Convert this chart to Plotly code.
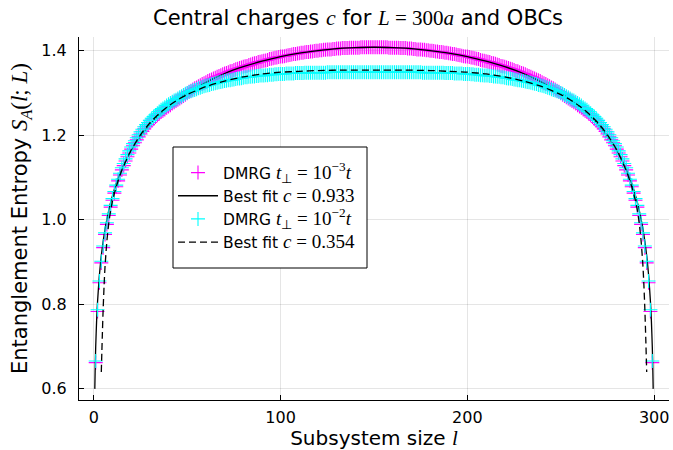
import plotly.graph_objects as go

# Subsystem sizes l = 1 .. 299 (L = 300)
l_vals = list(range(1, 300))

# DMRG entanglement entropy, t_perp = 1e-3 t (magenta)
S_dmrg_1e3 = [
    0.662, 0.783, 0.851, 0.898, 0.934, 0.965, 0.989, 1.010, 1.030, 1.046,
    1.063, 1.078, 1.092, 1.106, 1.118, 1.128, 1.139, 1.149, 1.158, 1.167,
    1.175, 1.182, 1.189, 1.196, 1.203, 1.209, 1.215, 1.220, 1.225, 1.230,
    1.235, 1.239, 1.243, 1.247, 1.251, 1.255, 1.258, 1.261, 1.265, 1.268,
    1.271, 1.275, 1.278, 1.281, 1.284, 1.287, 1.290, 1.293, 1.296, 1.299,
    1.303, 1.305, 1.308, 1.311, 1.313, 1.316, 1.318, 1.321, 1.323, 1.325,
    1.328, 1.330, 1.332, 1.334, 1.336, 1.338, 1.340, 1.342, 1.344, 1.346,
    1.347, 1.349, 1.351, 1.352, 1.354, 1.356, 1.357, 1.359, 1.360, 1.362,
    1.363, 1.364, 1.366, 1.367, 1.369, 1.370, 1.371, 1.373, 1.374, 1.375,
    1.376, 1.377, 1.378, 1.380, 1.381, 1.382, 1.383, 1.384, 1.385, 1.386,
    1.386, 1.387, 1.388, 1.389, 1.390, 1.391, 1.392, 1.392, 1.393, 1.394,
    1.395, 1.395, 1.396, 1.397, 1.397, 1.398, 1.398, 1.399, 1.400, 1.400,
    1.401, 1.401, 1.402, 1.402, 1.403, 1.403, 1.403, 1.404, 1.404, 1.405,
    1.405, 1.405, 1.406, 1.406, 1.406, 1.406, 1.407, 1.407, 1.407, 1.407,
    1.407, 1.407, 1.408, 1.408, 1.408, 1.408, 1.408, 1.408, 1.408, 1.408,
    1.408, 1.408, 1.408, 1.408, 1.408, 1.408, 1.408, 1.407, 1.407, 1.407,
    1.407, 1.407, 1.407, 1.406, 1.406, 1.406, 1.406, 1.405, 1.405, 1.405,
    1.404, 1.404, 1.403, 1.403, 1.403, 1.402, 1.402, 1.401, 1.401, 1.400,
    1.400, 1.399, 1.398, 1.398, 1.397, 1.397, 1.396, 1.395, 1.395, 1.394,
    1.393, 1.392, 1.392, 1.391, 1.390, 1.389, 1.388, 1.387, 1.386, 1.386,
    1.385, 1.384, 1.383, 1.382, 1.381, 1.380, 1.378, 1.377, 1.376, 1.375,
    1.374, 1.373, 1.371, 1.370, 1.369, 1.367, 1.366, 1.364, 1.363, 1.362,
    1.360, 1.359, 1.357, 1.356, 1.354, 1.352, 1.351, 1.349, 1.347, 1.346,
    1.344, 1.342, 1.340, 1.338, 1.336, 1.334, 1.332, 1.330, 1.328, 1.325,
    1.323, 1.321, 1.318, 1.316, 1.313, 1.311, 1.308, 1.305, 1.303, 1.299,
    1.296, 1.293, 1.290, 1.287, 1.284, 1.281, 1.278, 1.275, 1.271, 1.268,
    1.265, 1.261, 1.258, 1.255, 1.251, 1.247, 1.243, 1.239, 1.235, 1.230,
    1.225, 1.220, 1.215, 1.209, 1.203, 1.196, 1.189, 1.182, 1.175, 1.167,
    1.158, 1.149, 1.139, 1.128, 1.118, 1.106, 1.092, 1.078, 1.063, 1.046,
    1.030, 1.010, 0.989, 0.965, 0.934, 0.898, 0.851, 0.783, 0.662,
]

# DMRG entanglement entropy, t_perp = 1e-2 t (cyan)
S_dmrg_1e2 = [
    0.666, 0.787, 0.855, 0.902, 0.938, 0.969, 0.993, 1.014, 1.034, 1.050,
    1.067, 1.082, 1.096, 1.110, 1.123, 1.133, 1.144, 1.154, 1.163, 1.172,
    1.180, 1.187, 1.194, 1.201, 1.208, 1.214, 1.220, 1.225, 1.230, 1.235,
    1.240, 1.244, 1.248, 1.252, 1.256, 1.260, 1.263, 1.266, 1.270, 1.273,
    1.276, 1.279, 1.282, 1.284, 1.287, 1.290, 1.292, 1.295, 1.298, 1.300,
    1.302, 1.304, 1.306, 1.307, 1.309, 1.311, 1.312, 1.314, 1.316, 1.317,
    1.318, 1.319, 1.321, 1.322, 1.323, 1.324, 1.325, 1.326, 1.327, 1.328,
    1.329, 1.330, 1.330, 1.331, 1.332, 1.333, 1.334, 1.334, 1.335, 1.336,
    1.337, 1.337, 1.338, 1.338, 1.339, 1.339, 1.340, 1.340, 1.341, 1.341,
    1.341, 1.342, 1.342, 1.343, 1.343, 1.343, 1.344, 1.344, 1.345, 1.345,
    1.345, 1.345, 1.346, 1.346, 1.346, 1.346, 1.346, 1.347, 1.347, 1.347,
    1.347, 1.347, 1.348, 1.348, 1.348, 1.348, 1.348, 1.348, 1.348, 1.348,
    1.348, 1.348, 1.348, 1.348, 1.349, 1.349, 1.349, 1.349, 1.349, 1.349,
    1.349, 1.349, 1.349, 1.349, 1.349, 1.349, 1.349, 1.349, 1.349, 1.349,
    1.349, 1.349, 1.349, 1.349, 1.349, 1.349, 1.349, 1.349, 1.349, 1.349,
    1.349, 1.349, 1.349, 1.349, 1.349, 1.349, 1.349, 1.349, 1.349, 1.349,
    1.349, 1.349, 1.349, 1.349, 1.349, 1.349, 1.349, 1.349, 1.349, 1.349,
    1.349, 1.349, 1.349, 1.349, 1.349, 1.348, 1.348, 1.348, 1.348, 1.348,
    1.348, 1.348, 1.348, 1.348, 1.348, 1.348, 1.348, 1.347, 1.347, 1.347,
    1.347, 1.347, 1.346, 1.346, 1.346, 1.346, 1.346, 1.345, 1.345, 1.345,
    1.345, 1.344, 1.344, 1.343, 1.343, 1.343, 1.342, 1.342, 1.341, 1.341,
    1.341, 1.340, 1.340, 1.339, 1.339, 1.338, 1.338, 1.337, 1.337, 1.336,
    1.335, 1.334, 1.334, 1.333, 1.332, 1.331, 1.330, 1.330, 1.329, 1.328,
    1.327, 1.326, 1.325, 1.324, 1.323, 1.322, 1.321, 1.319, 1.318, 1.317,
    1.316, 1.314, 1.312, 1.311, 1.309, 1.307, 1.306, 1.304, 1.302, 1.300,
    1.298, 1.295, 1.292, 1.290, 1.287, 1.284, 1.282, 1.279, 1.276, 1.273,
    1.270, 1.266, 1.263, 1.260, 1.256, 1.252, 1.248, 1.244, 1.240, 1.235,
    1.230, 1.225, 1.220, 1.214, 1.208, 1.201, 1.194, 1.187, 1.180, 1.172,
    1.163, 1.154, 1.144, 1.133, 1.123, 1.110, 1.096, 1.082, 1.067, 1.050,
    1.034, 1.014, 0.993, 0.969, 0.938, 0.902, 0.855, 0.787, 0.666,
]

# Best fit curve, c = 0.933 (solid)
fit1_l = [0.53, 0.75, 1, 1.5, 2, 3, 4, 5, 6, 7, 8, 9, 10, 12, 14, 16, 18, 20,
          25, 30, 35, 40, 45, 50, 60, 70, 80, 90, 100, 110, 120, 130, 140, 150,
          160, 170, 180, 190, 200, 210, 220, 230, 240, 250, 255, 260, 265, 270,
          275, 280, 282, 284, 286, 288, 290, 291, 292, 293, 294, 295, 296, 297,
          298, 298.5, 299, 299.25, 299.47]
fit1_S = [0.600, 0.654, 0.699, 0.762, 0.807, 0.870, 0.915, 0.949, 0.978, 1.001,
          1.022, 1.041, 1.057, 1.085, 1.109, 1.129, 1.148, 1.164,
          1.198, 1.225, 1.248, 1.268, 1.285, 1.300, 1.325, 1.346, 1.362, 1.375,
          1.386, 1.394, 1.400, 1.405, 1.407, 1.408,
          1.407, 1.405, 1.400, 1.394, 1.386, 1.375, 1.362, 1.346, 1.325, 1.300,
          1.285, 1.268, 1.248, 1.225, 1.198, 1.164, 1.148, 1.129, 1.109, 1.085,
          1.057, 1.041, 1.022, 1.001, 0.978, 0.949, 0.915, 0.870, 0.807, 0.762,
          0.699, 0.654, 0.600]

# Best fit curve, c = 0.354 (dashed)
fit2_l = [4, 4.5, 5, 5.5, 6, 7, 8, 9, 10, 12, 15, 20, 25, 30, 35, 40, 45, 50,
          60, 70, 80, 90, 100, 110, 120, 135, 150, 165, 180, 190, 200, 210, 220,
          230, 240, 250, 255, 260, 265, 270, 275, 280, 285, 288, 290, 291, 292,
          293, 294, 294.5, 295, 295.5, 296]
fit2_S = [0.640, 0.720, 0.790, 0.845, 0.890, 0.950, 0.992, 1.022, 1.045, 1.078,
          1.117, 1.165, 1.201, 1.229, 1.251, 1.269, 1.284, 1.296, 1.315, 1.328,
          1.338, 1.345, 1.349, 1.351, 1.353, 1.354, 1.354, 1.354, 1.353, 1.351,
          1.349, 1.345, 1.338, 1.328, 1.315, 1.296, 1.284, 1.269, 1.251, 1.229,
          1.201, 1.165, 1.117, 1.078, 1.045, 1.022, 0.992, 0.950, 0.890, 0.845,
          0.790, 0.720, 0.640]

x_ticks = [0, 100, 200, 300]
y_ticks = [0.6, 0.8, 1.0, 1.2, 1.4]


def m(s, size=None):
    st = "font-family:'Liberation Serif',serif"
    if size:
        st += f";font-size:{size}px"
    return f'<span style="{st}">{s}</span>'


title_txt = ("Central charges " + m("<i>c</i>", 22) + " for " +
             m("<i>L</i> = 300<i>a</i>", 21) + " and OBCs")
x_title = "Subsystem size " + m("<i>l</i>", 21)
y_title = ("Entanglement Entropy " +
           m("<i>S</i><sub><i>A</i></sub>(<i>l</i>; <i>L</i>)", 23))
name1 = "DMRG " + m("<i>t</i><sub>⊥</sub> = 10<sup>−3</sup><i>t</i>", 19)
name2 = "Best fit " + m("<i>c</i> = 0.933", 19)
name3 = "DMRG " + m("<i>t</i><sub>⊥</sub> = 10<sup>−2</sup><i>t</i>", 19)
name4 = "Best fit " + m("<i>c</i> = 0.354", 19)

fig = go.Figure()
fig.add_trace(go.Scatter(
    x=l_vals, y=S_dmrg_1e3, mode="markers", name=name1, legendgroup="a",
    marker=dict(symbol="cross-thin", size=10, color="#ff00ff",
                line=dict(color="#ff00ff", width=1.1))))
fig.add_trace(go.Scatter(
    x=fit1_l, y=fit1_S, mode="lines", name=name2, legendgroup="b",
    line=dict(color="black", width=1.3, shape="spline", smoothing=0.6)))
fig.add_trace(go.Scatter(
    x=l_vals, y=S_dmrg_1e2, mode="markers", name=name3, legendgroup="c",
    marker=dict(symbol="cross-thin", size=10, color="#00ffff",
                line=dict(color="#00ffff", width=1.1))))
fig.add_trace(go.Scatter(
    x=fit2_l, y=fit2_S, mode="lines", name=name4, legendgroup="d",
    line=dict(color="black", width=1.3, dash="7px,4px", shape="spline",
              smoothing=0.6)))

axis_common = dict(
    showline=True, linecolor="black", linewidth=1, mirror=False,
    ticks="inside", ticklen=5, tickcolor="black", tickwidth=1,
    showgrid=True, gridcolor="rgba(0,0,0,0.1)", gridwidth=1,
    zeroline=False, tickfont=dict(size=16, color="black"),
)

fig.update_xaxes(range=[-7.94, 307.94], tickvals=x_ticks,
                 ticktext=[str(v) for v in x_ticks],
                 title=dict(text=x_title, font=dict(size=20), standoff=6),
                 ticklabelstandoff=3, **axis_common)
fig.update_yaxes(range=[0.5737, 1.4323], tickvals=y_ticks,
                 ticktext=[f"{v:.1f}" for v in y_ticks],
                 title=dict(text=y_title, font=dict(size=21), standoff=7),
                 ticklabelstandoff=8, **axis_common)

# legend frame (plot-area pixel box 173..367 x 147..268)
PX_L, PX_R, PX_T, PX_B = 79, 669, 37, 400


def px_x(p):
    return (p - PX_L) / (PX_R - PX_L)


def px_y(p):
    return (PX_B - p) / (PX_B - PX_T)


fig.add_shape(type="rect", xref="paper", yref="paper",
              x0=px_x(173), x1=px_x(367), y0=px_y(268), y1=px_y(147),
              line=dict(color="black", width=1), fillcolor="white",
              layer="above")

fig.update_layout(
    width=673, height=450,
    margin=dict(l=79, r=4, t=37, b=50, autoexpand=False),
    paper_bgcolor="white", plot_bgcolor="white",
    font=dict(family="DejaVu Sans", color="black"),
    title=dict(text=title_txt, x=px_x(358), xref="paper", xanchor="center",
               y=1 - 18 / 450, yref="container", yanchor="middle",
               font=dict(size=21)),
    legend=dict(x=px_x(173), y=px_y(156), xanchor="left", yanchor="top",
                bgcolor="rgba(0,0,0,0)", borderwidth=0,
                font=dict(size=15.5), tracegroupgap=0,
                itemwidth=40),
    showlegend=True,
)

fig.write_html(
    "out.html",
    config={"displayModeBar": False},
    post_script="document.body.style.margin='0';document.body.style.padding='0';",
)
